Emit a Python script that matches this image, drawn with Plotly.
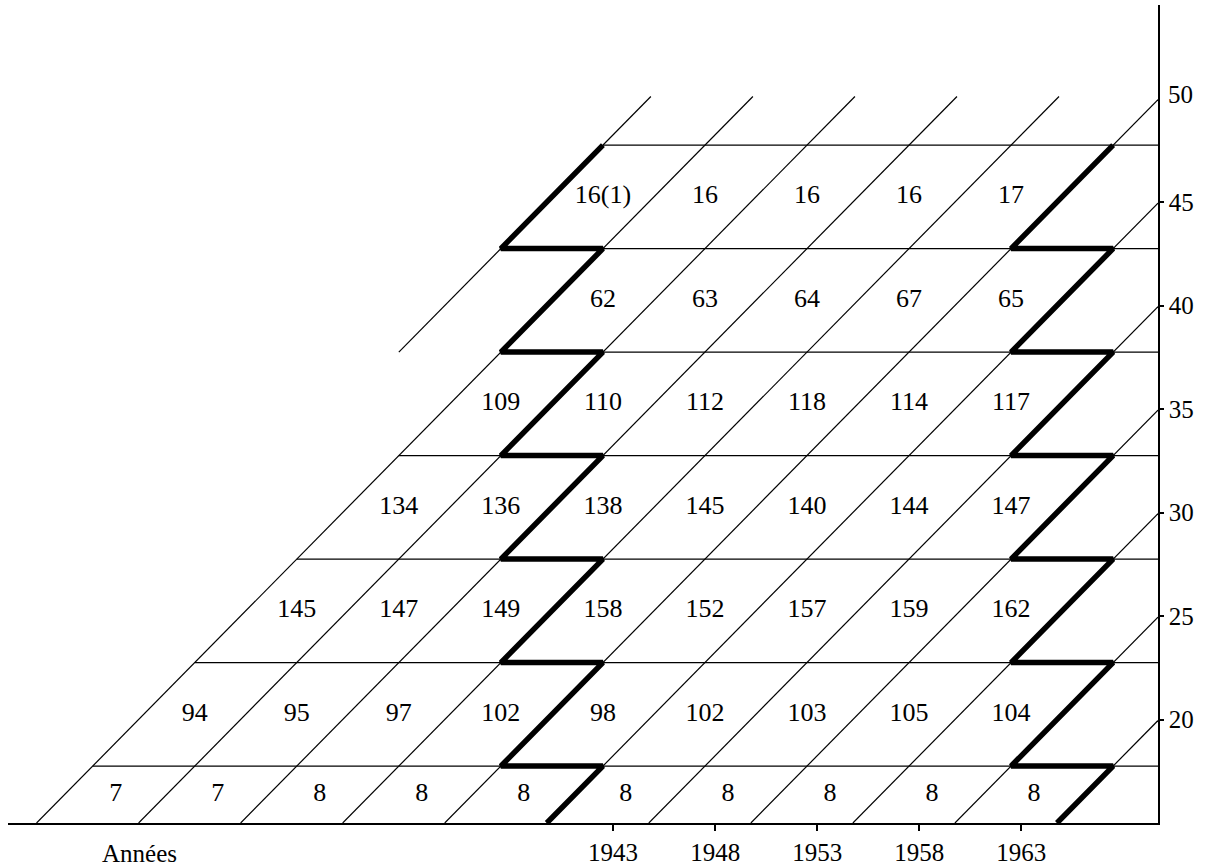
import plotly.graph_objects as go

# Lexis diagram: age bands (y) x periods (x), cohorts run along the diagonals
AGE_LINES = [15, 17.75, 22.75, 27.75, 32.75, 37.75, 42.75, 47.75]
COHORT_LINES = [1894.75, 1899.75, 1904.75, 1909.75, 1914.75, 1919.75,
                1924.75, 1929.75, 1934.75, 1939.75, 1944.75, 1949.75]
COHORT_START_AGE = [37.75, 15, 15, 15, 15, 15, 15, 15, 15, 15, 15, 15]
DIAG_TOP_AGE = 50.1
RIGHT_YEAR = 1969.7

# cell counts, bottom band first; FIRST_CELL = index in COHORT_LINES of the first cell's left diagonal
BAND_VALUES = [
    ["7", "7", "8", "8", "8", "8", "8", "8", "8", "8"],
    ["94", "95", "97", "102", "98", "102", "103", "105", "104"],
    ["145", "147", "149", "158", "152", "157", "159", "162"],
    ["134", "136", "138", "145", "140", "144", "147"],
    ["109", "110", "112", "118", "114", "117"],
    ["62", "63", "64", "67", "65"],
    ["16(1)", "16", "16", "16", "17"],
]
FIRST_CELL = [1, 1, 1, 1, 1, 1, 0]

PERIOD_STARTS = [1937.5, 1962.5]   # thick zig-zag lines
YEAR_TICKS = [1943, 1948, 1953, 1958, 1963]
AGE_TICKS = [20, 25, 30, 35, 40, 45]
TOP_AGE_LABEL = 50

SERIF = "Liberation Serif, Times New Roman, serif"

fig = go.Figure()

# horizontal age lines
hx, hy = [], []
nb = len(BAND_VALUES)
for i, a in enumerate(AGE_LINES[1:], start=1):
    firsts = [FIRST_CELL[b] for b in (i - 1, i) if 0 <= b < nb]
    c = COHORT_LINES[min(firsts)]
    hx += [c + a, RIGHT_YEAR, None]
    hy += [a, a, None]
fig.add_trace(go.Scatter(x=hx, y=hy, mode="lines", line=dict(color="black", width=1.3),
                         hoverinfo="skip", showlegend=False, cliponaxis=False))

# cohort diagonals
dx, dy = [], []
for c, a0 in zip(COHORT_LINES, COHORT_START_AGE):
    a1 = min(DIAG_TOP_AGE, RIGHT_YEAR - c)
    dx += [c + a0, c + a1, None]
    dy += [a0, a1, None]
fig.add_trace(go.Scatter(x=dx, y=dy, mode="lines", line=dict(color="black", width=1.2),
                         hoverinfo="skip", showlegend=False, cliponaxis=False))

# thick zig-zags
for p in PERIOD_STARTS:
    zx = [p + 5 - (AGE_LINES[1] - AGE_LINES[0])]
    zy = [AGE_LINES[0]]
    for j, a in enumerate(AGE_LINES[1:]):
        zx.append(p + 5); zy.append(a)
        if j < len(AGE_LINES) - 2:
            zx.append(p); zy.append(a)
    fig.add_trace(go.Scatter(x=zx, y=zy, mode="lines", line=dict(color="black", width=5.5),
                             hoverinfo="skip", showlegend=False, cliponaxis=False))

# cell numbers
tx, ty, tt = [], [], []
for b, vals in enumerate(BAND_VALUES):
    mid = (AGE_LINES[b] + AGE_LINES[b + 1]) / 2
    for n, v in enumerate(vals):
        c = COHORT_LINES[FIRST_CELL[b] + n]
        tx.append(c + 2.5 + mid)
        ty.append(mid)
        tt.append(v)
fig.add_trace(go.Scatter(x=tx, y=ty, text=tt, mode="text",
                         textfont=dict(family=SERIF, size=26, color="black"),
                         hoverinfo="skip", showlegend=False))

fig.add_annotation(text="Années", x=1919.8, y=-0.037, xref="x", yref="paper",
                   xanchor="center", yanchor="middle", showarrow=False,
                   font=dict(family=SERIF, size=25, color="black"))
fig.add_annotation(text=str(TOP_AGE_LABEL), x=1, xref="paper", y=TOP_AGE_LABEL + 0.2, yref="y",
                   xanchor="left", yanchor="middle", xshift=8, showarrow=False,
                   font=dict(family=SERIF, size=25, color="black"))

fig.update_xaxes(range=[1913.35, RIGHT_YEAR], tickvals=YEAR_TICKS,
                 showline=True, linecolor="black", linewidth=1.5,
                 ticks="outside", ticklen=6, tickwidth=1.5, tickcolor="black",
                 showgrid=False, zeroline=False, automargin=False,
                 tickfont=dict(family=SERIF, size=25, color="black"))
fig.update_yaxes(range=[15, 54.52], tickvals=AGE_TICKS, side="right",
                 showline=True, linecolor="black", linewidth=1.5,
                 ticks="outside", ticklen=4, tickwidth=1.5, tickcolor="black",
                 showgrid=False, zeroline=False, automargin=False,
                 tickfont=dict(family=SERIF, size=25, color="black"))

fig.update_layout(width=1210, height=867, autosize=False,
                  margin=dict(l=8, r=52, t=5, b=44),
                  plot_bgcolor="white", paper_bgcolor="white")

fig.write_html("out.html", config={"displayModeBar": False},
               post_script="document.body.style.margin='0';")
